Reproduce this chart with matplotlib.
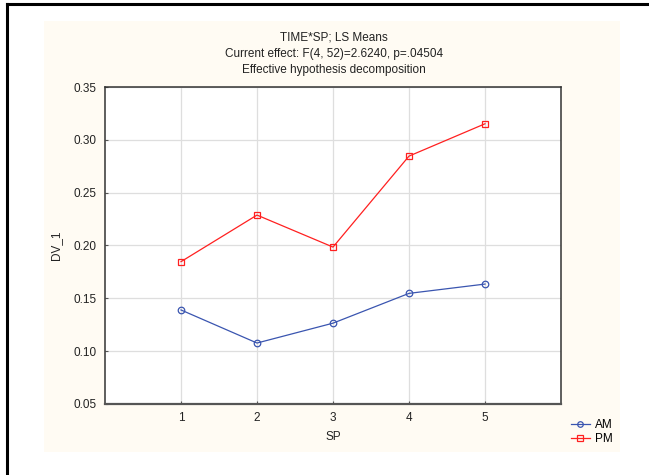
import matplotlib
matplotlib.use('Agg')
import matplotlib.pyplot as plt
from matplotlib.lines import Line2D
from matplotlib.patches import Rectangle

plt.rcParams['font.family'] = ['Liberation Sans', 'DejaVu Sans']

# LS means per SP level
sp = [1, 2, 3, 4, 5]
am = [0.139, 0.1077, 0.1265, 0.1547, 0.1635]
pm = [0.1847, 0.2288, 0.1985, 0.2846, 0.3152]
yticks = [0.05, 0.10, 0.15, 0.20, 0.25, 0.30, 0.35]

W, H = 649, 475
fs = 8.5
fig = plt.figure(figsize=(W / 100, H / 100), dpi=100)

# cream panel behind the plot
fig.patches.append(Rectangle((44 / W, 1 - 452 / H), (620 - 44) / W, (452 - 21) / H,
                             transform=fig.transFigure, facecolor='#fffbf3',
                             edgecolor='none', zorder=-10))
# black frame on the left and top
fig.lines.append(Line2D([7 / W, 7 / W], [0, 1 - 4 / H], transform=fig.transFigure,
                        color='black', lw=2.2))
fig.lines.append(Line2D([7 / W, 1], [1 - 4 / H, 1 - 4 / H], transform=fig.transFigure,
                        color='black', lw=2.2))

ax = fig.add_axes([105 / W, 1 - 404 / H, (561 - 105) / W, (404 - 87) / H])
ax.set_facecolor('white')

ax.plot(sp, am, color='#3a55b0', lw=0.9, marker='o', ms=4.7, mfc='none',
        mec='#3a55b0', mew=0.9, label='AM')
ax.plot(sp, pm, color='#ff2020', lw=0.9, marker='s', ms=4.7, mfc='none',
        mec='#ff2020', mew=0.9, label='PM')

ax.set_xlim(0, 6)
ax.set_ylim(0.05, 0.35)
ax.set_xticks(sp)
ax.set_yticks(yticks)
ax.set_yticklabels(['%.2f' % v for v in yticks])
ax.grid(True, color='#dedede', lw=0.9)
ax.set_axisbelow(True)
ax.tick_params(direction='in', length=2.5, width=0.8, colors='#555555',
               labelcolor='#222222', labelsize=fs, pad=6)
for s in ax.spines.values():
    s.set_color('#333333')
    s.set_linewidth(1.1)
ax.spines['bottom'].set_color('#555555')
ax.spines['bottom'].set_linewidth(1.6)

ax.set_xlabel('SP', fontsize=fs, color='#222222', labelpad=5)
ax.set_ylabel('DV_1', fontsize=fs, color='#222222', labelpad=8)

title = ('TIME*SP; LS Means\n'
         'Current effect: F(4, 52)=2.6240, p=.04504\n'
         'Effective hypothesis decomposition')
fig.text(334 / W, 1 - 31 / H, title, ha='center', va='top', fontsize=fs,
         color='#222222', linespacing=1.52)

ax.legend(loc='upper left', bbox_to_anchor=(571 / W, 1 - 419 / H),
          bbox_transform=fig.transFigure, frameon=False, fontsize=fs,
          handlelength=1.6, handletextpad=0.45, labelspacing=0.2,
          markerscale=0.85, borderpad=0, borderaxespad=0)

fig.savefig('out.png', dpi=100)
